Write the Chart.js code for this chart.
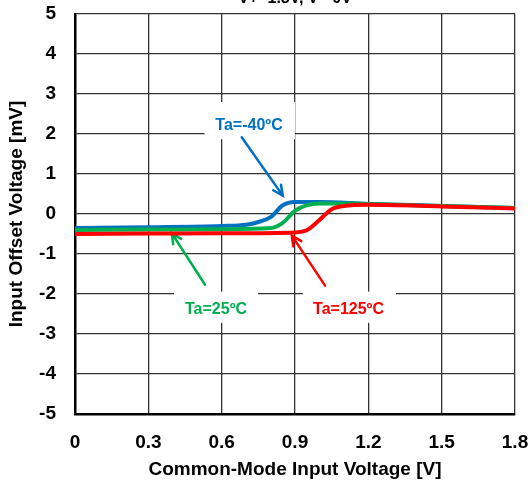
<!DOCTYPE html>
<html>
<head>
<meta charset="utf-8">
<script src="https://cdn.jsdelivr.net/npm/chart.js@4/dist/chart.umd.min.js"></script>
<style>
  html, body { margin: 0; padding: 0; background: #fff; }
</style>
</head>
<body>
<canvas id="vosChart" width="532" height="489"></canvas>
<script>
// common-mode input voltage [V] and input offset voltage [mV] per temperature
const vcm40 = [0, 0.3, 0.6, 0.7, 0.75, 0.8, 0.85, 0.9, 1.0, 1.2, 1.5, 1.8];
const vos40 = [-0.35, -0.33, -0.3, -0.27, -0.2, -0.08, 0.22, 0.3, 0.3, 0.25, 0.2, 0.15];

const vcm25 = [0, 0.3, 0.6, 0.8, 0.85, 0.9, 0.95, 1.0, 1.2, 1.5, 1.8];
const vos25 = [-0.4, -0.39, -0.38, -0.35, -0.22, 0.08, 0.22, 0.26, 0.25, 0.2, 0.15];

const vcm125 = [0, 0.3, 0.6, 0.9, 0.95, 1.0, 1.05, 1.1, 1.2, 1.5, 1.8];
const vos125 = [-0.5, -0.49, -0.48, -0.46, -0.4, -0.15, 0.12, 0.2, 0.23, 0.19, 0.14];

const xTicks = [0, 0.3, 0.6, 0.9, 1.2, 1.5, 1.8];
const yTicks = [-5, -4, -3, -2, -1, 0, 1, 2, 3, 4, 5];

const FONT = '"Liberation Sans", Arial, sans-serif';

function pts(xs, ys) {
    return xs.map((x, i) => ({ x: x, y: ys[i] }));
}

// callout labels with arrows, in data coordinates
const callouts = [
    { text: 'Ta=-40ºC', color: '#0070C0', at: [0.712, 2.22], box: [0.53, 0.90, 2.8, 1.87], from: [0.682, 1.92], to: [0.85, 0.46] },
    { text: 'Ta=25ºC',  color: '#00B050', at: [0.577, -2.39], box: [0.405, 0.749, -1.94, -2.72], from: [0.532, -1.77], to: [0.396, -0.48] },
    { text: 'Ta=125ºC', color: '#FF0000', at: [1.119, -2.39], box: [0.932, 1.313, -1.94, -2.72], from: [1.023, -1.79], to: [0.887, -0.54] }
];

const calloutPlugin = {
    id: 'callouts',
    beforeDatasetsDraw(chart) {
        const ctx = chart.ctx;
        const sx = chart.scales.x, sy = chart.scales.y;
        ctx.save();
        callouts.forEach(c => {
            const x0 = sx.getPixelForValue(c.box[0]), x1 = sx.getPixelForValue(c.box[1]);
            const y0 = sy.getPixelForValue(c.box[2]), y1 = sy.getPixelForValue(c.box[3]);
            ctx.fillStyle = '#fff';
            ctx.fillRect(x0, y0, x1 - x0, y1 - y0);

            ctx.fillStyle = c.color;
            ctx.font = 'bold 16px ' + FONT;
            ctx.textAlign = 'center';
            ctx.textBaseline = 'middle';
            ctx.fillText(c.text, sx.getPixelForValue(c.at[0]), sy.getPixelForValue(c.at[1]));

            const ax = sx.getPixelForValue(c.from[0]), ay = sy.getPixelForValue(c.from[1]);
            const bx = sx.getPixelForValue(c.to[0]), by = sy.getPixelForValue(c.to[1]);
            const ang = Math.atan2(by - ay, bx - ax);
            ctx.strokeStyle = c.color;
            ctx.lineWidth = 2.5;
            ctx.lineCap = 'round';
            ctx.beginPath();
            ctx.moveTo(ax, ay);
            ctx.lineTo(bx, by);
            ctx.moveTo(bx - 11 * Math.cos(ang - 0.45), by - 11 * Math.sin(ang - 0.45));
            ctx.lineTo(bx, by);
            ctx.lineTo(bx - 11 * Math.cos(ang + 0.45), by - 11 * Math.sin(ang + 0.45));
            ctx.stroke();
        });

        // supply condition heading, mostly above the canvas edge
        ctx.fillStyle = '#000';
        ctx.font = 'bold 16px ' + FONT;
        ctx.textAlign = 'center';
        ctx.textBaseline = 'alphabetic';
        ctx.fillText('V+=1.8V, V-=0V', (chart.chartArea.left + chart.chartArea.right) / 2, 2.5);
        ctx.restore();
    }
};

const lineStyle = { borderWidth: 4, pointRadius: 0, tension: 0.3, cubicInterpolationMode: 'monotone', fill: false };

new Chart(document.getElementById('vosChart'), {
    type: 'line',
    data: {
        datasets: [
            Object.assign({ label: 'Ta=125ºC', data: pts(vcm125, vos125), borderColor: '#FF0000' }, lineStyle),
            Object.assign({ label: 'Ta=25ºC', data: pts(vcm25, vos25), borderColor: '#00B050' }, lineStyle),
            Object.assign({ label: 'Ta=-40ºC', data: pts(vcm40, vos40), borderColor: '#0070C0' }, lineStyle)
        ]
    },
    plugins: [calloutPlugin],
    options: {
        responsive: false,
        devicePixelRatio: 1,
        animation: false,
        layout: { padding: { top: 14, right: 17, left: 0, bottom: 0 } },
        plugins: { legend: { display: false }, tooltip: { enabled: false }, title: { display: false } },
        scales: {
            x: {
                type: 'linear',
                min: 0, max: 1.8,
                afterBuildTicks: s => { s.ticks = xTicks.map(v => ({ value: v })); },
                afterFit: s => { s.height = 75; s.paddingLeft = 0; s.paddingRight = 0; },
                ticks: {
                    color: '#000', padding: 17, maxRotation: 0,
                    font: { family: FONT, size: 19, weight: 'bold' },
                    callback: v => v === 0 ? '0' : v.toFixed(1)
                },
                grid: { color: '#333', lineWidth: 1.3, drawTicks: false, tickLength: 0 },
                border: { display: true, color: '#000', width: 2.5 },
                title: {
                    display: true, text: 'Common-Mode Input Voltage [V]', color: '#000',
                    font: { family: FONT, size: 19, weight: 'bold' }, padding: { top: 0, bottom: 8 }
                }
            },
            y: {
                type: 'linear',
                min: -5, max: 5,
                afterBuildTicks: s => { s.ticks = yTicks.map(v => ({ value: v })); },
                afterFit: s => { s.width = 75; s.paddingTop = 0; s.paddingBottom = 0; },
                ticks: {
                    color: '#000', padding: 19,
                    font: { family: FONT, size: 19, weight: 'bold' }
                },
                grid: { color: '#333', lineWidth: 1.3, drawTicks: false, tickLength: 0 },
                border: { display: true, color: '#000', width: 2.5 },
                title: {
                    display: true, text: 'Input Offset Voltage [mV]', color: '#000',
                    font: { family: FONT, size: 19, weight: 'bold' }, padding: { top: 5, bottom: 0 }
                }
            }
        }
    }
});
</script>
</body>
</html>
